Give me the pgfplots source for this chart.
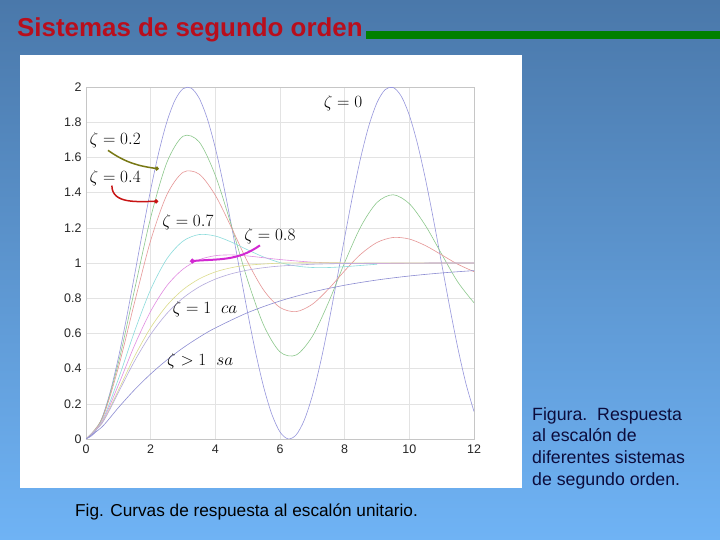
\documentclass[border=0pt]{standalone}
\usepackage{fontspec}
\setmainfont{Liberation Sans}
\usepackage{pgfplots}
\pgfplotsset{compat=1.18}
\usetikzlibrary{arrows.meta}

\definecolor{bgtop}{RGB}{74,120,170}
\definecolor{bgbot}{RGB}{111,179,245}
\definecolor{titlered}{RGB}{185,14,28}
\definecolor{barGreen}{RGB}{0,128,0}
\definecolor{navy}{RGB}{12,12,60}
\definecolor{cz0}{RGB}{150,150,220}
\definecolor{cz01}{RGB}{140,200,140}
\definecolor{cz02}{RGB}{230,150,150}
\definecolor{cz05}{RGB}{140,220,220}
\definecolor{cz07}{RGB}{225,140,225}
\definecolor{cz09}{RGB}{220,220,140}
\definecolor{cz1}{RGB}{180,170,220}
\definecolor{cz2}{RGB}{140,140,210}
\definecolor{olivearrow}{RGB}{120,120,20}
\definecolor{redarrow}{RGB}{200,20,20}
\definecolor{magarrow}{RGB}{210,40,210}

\begin{document}
\begin{tikzpicture}[x=1bp,y=1bp]
\useasboundingbox (0,0) rectangle (720,540);
\shade[top color=bgtop, bottom color=bgbot] (0,0) rectangle (720,540);
\fill[white] (20,52) rectangle (522,485);

% title and bar
\node[anchor=base west, inner sep=0, text=titlered,
  font=\bfseries\fontsize{26}{30}\selectfont] at (17,503) {Sistemas de segundo orden};
\fill[barGreen] (366,501) rectangle (720,509);

% captions
\node[anchor=base west, inner sep=0, text=black,
  font=\fontsize{17.3}{21}\selectfont] at (75,23) {Fig. Curvas de respuesta al escalón unitario.};
\node[anchor=north west, inner sep=0, text=navy, align=left,
  font=\fontsize{17.8}{22}\selectfont] at (532,133)
  {Figura.\ \ Respuesta\\al escalón de\\diferentes sistemas\\de segundo orden.};

\begin{axis}[
  at={(86bp,101bp)}, anchor=south west,
  scale only axis, width=388bp, height=352bp,
  xmin=0, xmax=12, ymin=0, ymax=2,
  xtick={0,2,4,6,8,10,12},
  ytick={0,0.2,0.4,0.6,0.8,1,1.2,1.4,1.6,1.8,2},
  grid=major, grid style={gray!22, line width=0.5pt},
  axis line style={gray!45},
  major tick length=0pt,
  tick label style={font=\fontsize{12.5}{14}\selectfont, text=black!85},
  /pgf/number format/assume math mode=true,
  yticklabel style={/pgf/number format/fixed, /pgf/number format/precision=1},
  xticklabel style={yshift=-2bp},
  yticklabel style={xshift=-1bp},
  every axis plot/.append style={line width=0.6pt, smooth, no markers},
]
% zeta = 0
\addplot[cz0] coordinates {
 (0,0) (0.25,0.0311) (0.5,0.1224) (0.75,0.2683) (1,0.4597) (1.25,0.6847)
 (1.5,0.9293) (1.75,1.1782) (2,1.4161) (2.25,1.6282) (2.5,1.8011) (2.75,1.9243)
 (3,1.9900) (3.25,1.9941) (3.5,1.9365) (3.75,1.8206) (4,1.6536) (4.25,1.4461)
 (4.5,1.2108) (4.75,0.9624) (5,0.7163) (5.25,0.4883) (5.5,0.2913) (5.75,0.1392)
 (6,0.0398) (6.25,0.0005) (6.5,0.0234) (6.75,0.1070) (7,0.2461) (7.25,0.4321)
 (7.5,0.6534) (7.75,0.8962) (8,1.1455) (8.25,1.3857) (8.5,1.6020) (8.75,1.7809)
 (9,1.9111) (9.25,1.9848) (9.5,1.9972) (9.75,1.9476) (10,1.8391) (10.25,1.6783)
 (10.5,1.4755) (10.75,1.2433) (11,0.9956) (11.25,0.7483) (11.5,0.5167)
 (11.75,0.3152) (12,0.1561)};
% zeta = 0.1
\addplot[cz01] coordinates {
 (0,0) (0.5,0.1184) (1,0.4310) (1.5,0.8464) (2,1.2581) (2.5,1.5705) (3,1.7201)
 (3.5,1.6879) (4,1.4979) (4.5,1.2106) (5,0.9014) (5.5,0.6444) (6,0.4949)
 (6.5,0.4772) (7,0.5830) (7.5,0.7758) (8,1.0027) (8.5,1.2071) (9,1.3440)
 (9.5,1.3876) (10,1.3369) (10.5,1.2122) (11,1.0503) (11.5,0.8917) (12,0.7737)};
% zeta = 0.2
\addplot[cz02] coordinates {
 (0,0) (0.5,0.1146) (1,0.4051) (1.5,0.7748) (2,1.1278) (2.5,1.3869) (3,1.5151)
 (3.5,1.5049) (4,1.3845) (4.5,1.2007) (5,1.0055) (5.5,0.8445) (6,0.7473)
 (6.5,0.7238) (7,0.7657) (7.5,0.8522) (8,0.9556) (8.5,1.0504) (9,1.1167)
 (9.5,1.1450) (10,1.1361) (10.5,1.0986) (11,1.0461) (11.5,0.9928) (12,0.9508)};
% zeta = 0.5
\addplot[cz05] coordinates {
 (0,0) (0.5,0.1044) (1,0.3403) (1.5,0.6104) (2,0.8494) (2.5,1.0233) (3,1.1243)
 (3.5,1.1617) (4,1.1531) (4.5,1.1185) (5,1.0746) (5.5,1.0336) (6,1.0023)
 (6.5,0.9828) (7,0.9744) (7.5,0.9742) (8,0.9790) (8.5,0.9860) (9,0.9929)};
% zeta = 0.7
\addplot[cz07] coordinates {
 (0,0) (0.5,0.0983) (1,0.3059) (1.5,0.5314) (2,0.7257) (2.5,0.8705) (3,0.9651)
 (3.5,1.0185) (4,1.0416) (4.5,1.0458) (5,1.0398) (5.5,1.0298) (6,1.0196)
 (7,1.0049) (8,0.9988) (9,0.9979) (10,0.9990) (11,1.0) (12,1.0)};
% zeta = 0.9
\addplot[cz09] coordinates {
 (0,0) (0.5,0.0929) (1,0.2769) (1.5,0.4688) (2,0.6324) (2.5,0.7583) (3,0.8485)
 (3.5,0.9096) (4,0.9492) (4.5,0.9734) (5,0.9875) (6,0.9992) (7,1.0015)
 (8,1.0010) (9,1.0004) (10,1.0) (11,1.0) (12,1.0)};
% zeta = 1
\addplot[cz1] coordinates {
 (0,0) (0.5,0.0902) (1,0.2642) (1.5,0.4422) (2,0.5940) (2.5,0.7127) (3,0.8009)
 (3.5,0.8641) (4,0.9084) (4.5,0.9389) (5,0.9596) (5.5,0.9734) (6,0.9826)
 (7,0.9927) (8,0.9970) (9,0.9988) (10,0.9995) (11,0.9998) (12,0.9999)};
% zeta = 2
\addplot[cz2] coordinates {
 (0,0) (0.5,0.0697) (1,0.1778) (1.5,0.2795) (2,0.3696) (2.5,0.4486) (3,0.5178)
 (3.5,0.5782) (4,0.6311) (5,0.7178) (6,0.7842) (7,0.8349) (8,0.8737)
 (9,0.9034) (10,0.9261) (11,0.9435) (12,0.9568)};

% annotations
\node[font=\fontsize{18}{20}\selectfont] at (axis cs:0.90,1.70) {$\zeta=0.2$};
\node[font=\fontsize{18}{20}\selectfont] at (axis cs:0.90,1.48) {$\zeta=0.4$};
\node[font=\fontsize{18}{20}\selectfont] at (axis cs:3.15,1.23) {$\zeta=0.7$};
\node[font=\fontsize{18}{20}\selectfont] at (axis cs:5.69,1.15) {$\zeta=0.8$};
\node[font=\fontsize{18}{20}\selectfont] at (axis cs:7.95,1.91) {$\zeta=0$};
\node[font=\fontsize{18}{20}\selectfont] at (axis cs:3.68,0.74) {$\zeta=1\ \ ca$};
\node[font=\fontsize{18}{20}\selectfont] at (axis cs:3.53,0.44) {$\zeta>1\ \ sa$};
\draw[olivearrow, line width=1.5bp, -{Circle[length=4bp]}]
  (axis cs:0.68,1.64) to[out=-35,in=172] (axis cs:2.25,1.535);
\draw[redarrow, line width=1.5bp, -{Circle[length=4bp]}]
  (axis cs:0.80,1.44) to[out=-90,in=180] (axis cs:2.23,1.35);
\draw[magarrow, line width=2bp, -{Circle[length=4.5bp]}]
  (axis cs:5.38,1.10) to[out=-145,in=5] (axis cs:3.22,1.01);
\end{axis}
\end{tikzpicture}
\end{document}
